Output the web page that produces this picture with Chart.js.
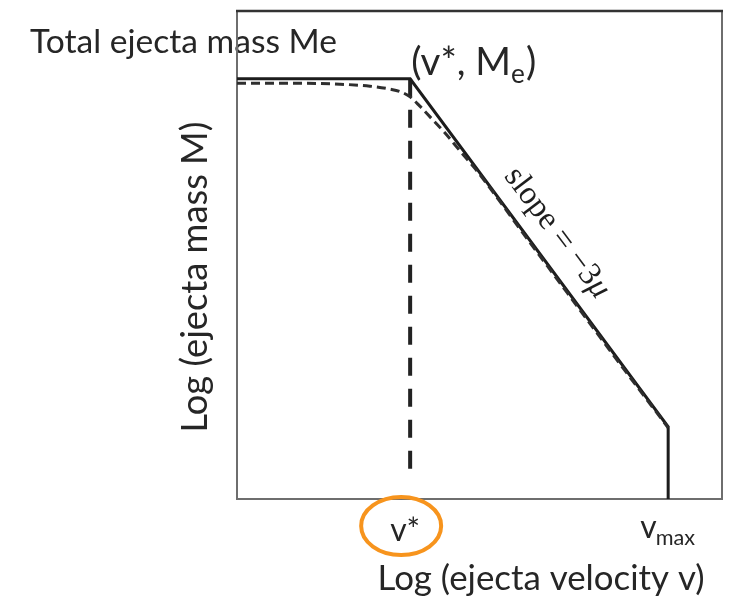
<!DOCTYPE html>
<html>
<head>
<meta charset="utf-8">
<script src="https://cdn.jsdelivr.net/npm/chart.js@4"></script>
<style>
  html, body { margin: 0; padding: 0; background: #fff; }
  #wrap { width: 731px; height: 597px; position: relative; }
</style>
</head>
<body>
<div id="wrap"><canvas id="massChart"></canvas></div>
<script>
// log(v) and log(M) in arbitrary units
const solidV = [0, 3.57, 8.89, 8.89];
const solidM = [8.61, 8.61, 1.48, 0];

const curveV = [0, 1.3, 2.12, 2.74, 3.15, 3.36, 3.57, 3.77, 3.98, 4.29, 4.6, 4.91, 6.0, 7.0, 8.0, 8.89];
const curveM = [8.52, 8.52, 8.5, 8.46, 8.4, 8.35, 8.24, 8.05, 7.83, 7.5, 7.13, 6.77, 5.31, 3.97, 2.63, 1.46];

const starV = [3.57, 3.57];
const starM = [8.61, 0.49];

const tickValues = [3.57, 8.89];
const tickLabels = ["v*", "vmax"];

const FAMILY = "Lato, 'Open Sans', sans-serif";
const TEXT = "#262626";

function toPoints(xs, ys) {
    return xs.map((x, i) => ({ x: x, y: ys[i] }));
}

// font size that makes text span a given width
function fitSize(ctx, text, width, family) {
    ctx.font = "100px " + family;
    return 100 * width / ctx.measureText(text).width;
}

const labelsPlugin = {
    id: "labels",
    beforeDraw(chart) {
        const ctx = chart.ctx;
        ctx.save();
        ctx.fillStyle = TEXT;
        ctx.textBaseline = "alphabetic";
        ctx.textAlign = "left";

        // top-left note
        let s = fitSize(ctx, "Total ejecta mass Me", 307, FAMILY);
        ctx.font = s + "px " + FAMILY;
        ctx.fillText("Total ejecta mass Me", 30, 53);

        // x title
        s = fitSize(ctx, "Log (ejecta velocity v)", 327, FAMILY);
        ctx.font = s + "px " + FAMILY;
        ctx.textAlign = "center";
        ctx.fillText("Log (ejecta velocity v)", 541, 590);

        // y title
        s = fitSize(ctx, "Log (ejecta mass M)", 311, FAMILY);
        ctx.font = s + "px " + FAMILY;
        ctx.translate(207, 277);
        ctx.rotate(-Math.PI / 2);
        ctx.fillText("Log (ejecta mass M)", 0, 0);
        ctx.restore();
    },
    beforeDatasetsDraw(chart) {
        const { ctx, chartArea: a } = chart;
        ctx.save();
        ctx.strokeStyle = "#6e6e6e";
        ctx.lineWidth = 2;
        ctx.strokeRect(a.left, a.top, a.right - a.left, a.bottom - a.top);
        ctx.strokeStyle = "#333";
        ctx.lineWidth = 2.5;
        ctx.beginPath();
        ctx.moveTo(a.left - 1, a.top);
        ctx.lineTo(a.right + 1, a.top);
        ctx.stroke();
        ctx.restore();
    },
    afterDraw(chart) {
        const ctx = chart.ctx;
        const xs = chart.scales.x;
        const ys = chart.scales.y;
        ctx.save();
        ctx.fillStyle = TEXT;
        ctx.textBaseline = "alphabetic";

        // tick labels under the axis
        const px0 = xs.getPixelForValue(tickValues[0]);
        const px1 = xs.getPixelForValue(tickValues[1]);
        let s = fitSize(ctx, "v*", 30, FAMILY);
        ctx.font = s + "px " + FAMILY;
        ctx.textAlign = "center";
        ctx.fillText(tickLabels[0], px0 - 5, 541);

        ctx.font = s + "px " + FAMILY;
        const wv = ctx.measureText("v").width;
        ctx.font = (s * 0.68) + "px " + FAMILY;
        const wsub = ctx.measureText("max").width;
        const startX = px1 - (wv + wsub) / 2;
        ctx.textAlign = "left";
        ctx.font = s + "px " + FAMILY;
        ctx.fillText("v", startX, 538);
        ctx.font = (s * 0.68) + "px " + FAMILY;
        ctx.fillText("max", startX + wv - 1, 545);

        // corner label (v*, Me)
        const cx = xs.getPixelForValue(solidV[1]);
        const cy = ys.getPixelForValue(solidM[1]);
        s = fitSize(ctx, "(v*, M", 100, FAMILY);
        ctx.font = s + "px " + FAMILY;
        const w1 = ctx.measureText("(v*, M").width;
        ctx.fillText("(v*, M", cx + 1, cy - 4);
        ctx.font = (s * 0.68) + "px " + FAMILY;
        const w2 = ctx.measureText("e").width;
        ctx.fillText("e", cx + 1 + w1, cy + 4);
        ctx.font = s + "px " + FAMILY;
        ctx.fillText(")", cx + 1 + w1 + w2 + 1, cy - 4);

        // slope annotation
        const serif = "'Liberation Serif', 'DejaVu Serif', serif";
        s = fitSize(ctx, "slope = \u22123\u03bc", 156, serif);
        ctx.translate(557, 233);
        ctx.rotate(53 * Math.PI / 180);
        ctx.textAlign = "left";
        ctx.font = s + "px " + serif;
        const wa = ctx.measureText("slope = \u22123").width;
        ctx.font = "italic " + s + "px " + serif;
        const wb = ctx.measureText("\u03bc").width;
        const x0 = -(wa + wb) / 2;
        ctx.textBaseline = "middle";
        ctx.fillStyle = "#1e1e1e";
        ctx.font = s + "px " + serif;
        ctx.fillText("slope = \u22123", x0, 0);
        ctx.font = "italic " + s + "px " + serif;
        ctx.fillText("\u03bc", x0 + wa, 0);
        ctx.restore();

        // orange ring around v*
        ctx.save();
        ctx.strokeStyle = "#f7941d";
        ctx.lineWidth = 4;
        ctx.beginPath();
        ctx.ellipse(px0 - 9, 526, 40, 29, 0, 0, Math.PI * 2);
        ctx.stroke();
        ctx.restore();
    }
};

new Chart(document.getElementById("massChart"), {
    type: "scatter",
    data: {
        datasets: [
            {
                label: "smooth",
                data: toPoints(curveV, curveM),
                showLine: true,
                borderColor: "#2e2e2e",
                borderWidth: 3,
                borderDash: [9, 5],
                cubicInterpolationMode: "monotone",
                pointRadius: 0
            },
            {
                label: "broken power law",
                data: toPoints(solidV, solidM),
                showLine: true,
                borderColor: "#1c1c1c",
                borderWidth: 3,
                tension: 0,
                pointRadius: 0
            },
            {
                label: "v*",
                data: toPoints(starV, starM),
                showLine: true,
                borderColor: "#222",
                borderWidth: 4,
                borderDash: [18, 13],
                pointRadius: 0
            }
        ]
    },
    options: {
        responsive: true,
        maintainAspectRatio: false,
        animation: false,
        layout: { padding: { left: 237, top: 11, right: 9, bottom: 98 } },
        plugins: {
            legend: { display: false },
            tooltip: { enabled: false }
        },
        scales: {
            x: { type: "linear", min: 0, max: 10, display: false },
            y: { type: "linear", min: 0, max: 10, display: false }
        }
    },
    plugins: [labelsPlugin]
});
</script>
</body>
</html>
